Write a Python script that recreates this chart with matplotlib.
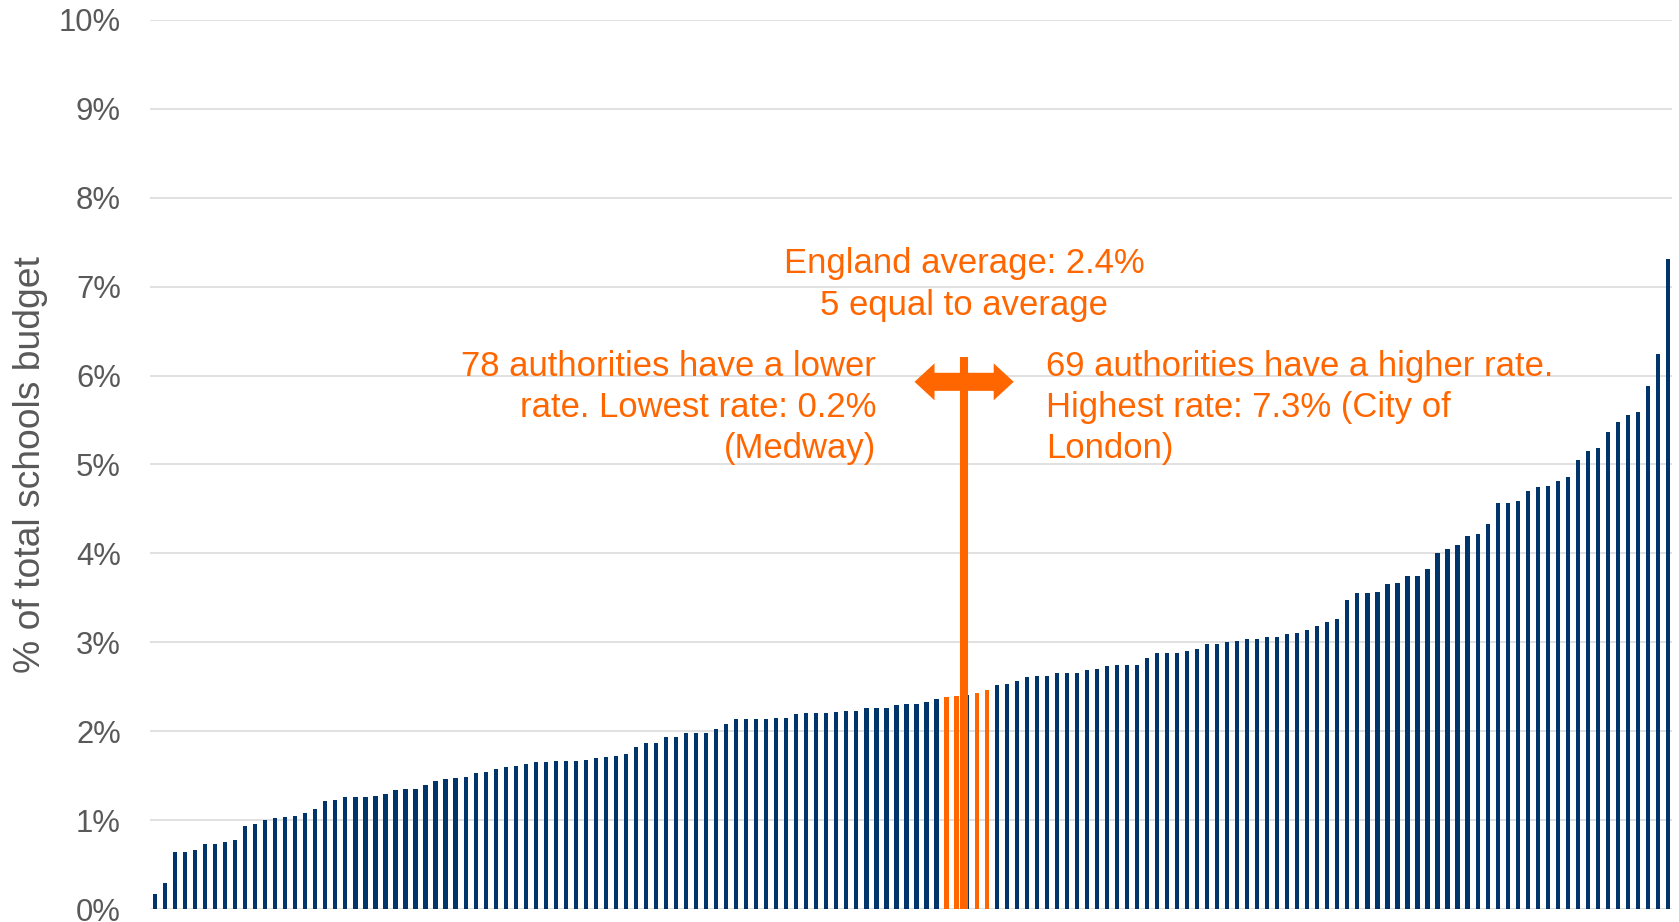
import matplotlib
matplotlib.use("Agg")
import matplotlib.pyplot as plt
from matplotlib.patches import FancyArrowPatch, ArrowStyle

plt.rcParams['font.family'] = ['Liberation Sans', 'DejaVu Sans']

# ---- data (sorted authority rates, % of total schools budget) ----
rates = [
    0.17, 0.29, 0.64, 0.64, 0.66, 0.73, 0.73, 0.75, 0.78, 0.93,
    0.96, 1.00, 1.02, 1.04, 1.05, 1.08, 1.13, 1.22, 1.23, 1.26,
    1.26, 1.26, 1.27, 1.29, 1.34, 1.35, 1.35, 1.40,
    1.44, 1.46, 1.47, 1.49, 1.53, 1.54, 1.58, 1.60, 1.61, 1.63,
    1.65, 1.65, 1.66, 1.66, 1.67, 1.68, 1.70, 1.71, 1.72, 1.74,
    1.82, 1.87, 1.87, 1.94, 1.94, 1.98, 1.98, 1.98,
    2.02, 2.08, 2.14, 2.14, 2.14, 2.14, 2.15, 2.15, 2.19, 2.20,
    2.21, 2.21, 2.22, 2.23, 2.23, 2.26, 2.26, 2.26, 2.29, 2.31,
    2.31, 2.33, 2.36,
    2.38, 2.40, 2.41, 2.43, 2.46,
    2.52, 2.53, 2.56, 2.61, 2.62, 2.62, 2.65, 2.65, 2.66, 2.69,
    2.70, 2.73, 2.74, 2.75, 2.75, 2.82, 2.88, 2.88, 2.88, 2.90,
    2.92, 2.98, 2.98, 3.00, 3.02, 3.04, 3.04, 3.06,
    3.06, 3.09, 3.11, 3.14, 3.18, 3.23, 3.26, 3.48, 3.56, 3.56,
    3.57, 3.66, 3.67, 3.75, 3.75, 3.82, 4.00, 4.05, 4.10, 4.20,
    4.22, 4.33,
    4.57, 4.57, 4.59, 4.70, 4.75, 4.76, 4.81, 4.86, 5.05, 5.15,
    5.19, 5.36, 5.48, 5.56, 5.59, 5.88, 6.24, 7.31,
]
# bars drawn in the highlight colour (equal to the England average)
highlight = [False] * 79 + [True, True, False, True, True] + [False] * 68

england_average = 2.4
y_ticks = [0, 1, 2, 3, 4, 5, 6, 7, 8, 9, 10]
y_tick_labels = ["0%", "1%", "2%", "3%", "4%", "5%", "6%", "7%", "8%", "9%", "10%"]
y_label = "% of total schools budget"
title_lines = ["England average: 2.4%", "5 equal to average"]
left_lines = ["78 authorities have a lower", "rate. Lowest rate: 0.2%", "(Medway)"]
right_lines = ["69 authorities have a higher rate.", "Highest rate: 7.3% (City of", "London)"]

NAVY = "#00356b"
ORANGE = "#ff6600"
GREY_TXT = "#595959"
GRID = "#d9d9d9"

W, H = 1679, 922
fig = plt.figure(figsize=(W / 100, H / 100), dpi=100)
ax = fig.add_axes([150 / W, 13 / H, (1672 - 150) / W, (902 - 13) / H])

x = list(range(len(rates)))
colors = [ORANGE if h else NAVY for h in highlight]
ax.bar(x, rates, width=0.42, color=colors, zorder=2)

ax.set_xlim(-0.5, 151.4)
ax.set_ylim(0, 10)
ax.set_yticks(y_ticks)
ax.set_yticklabels(y_tick_labels, fontsize=22.3, color=GREY_TXT)
ax.set_xticks([])
ax.tick_params(axis='y', length=0, pad=21)
for s in ax.spines.values():
    s.set_visible(False)
ax.grid(axis='y', color=GRID, linewidth=1.1, zorder=0)
ax.set_axisbelow(True)
ax.set_ylabel(y_label, fontsize=26.8, color=GREY_TXT, labelpad=8)

# average marker: vertical line + double arrow
xc = 80.75
ax.plot([xc, xc], [0, 6.21], color=ORANGE, linewidth=5.8, solid_capstyle='butt', zorder=4)
style = ArrowStyle("simple", head_length=14.4, head_width=26.6, tail_width=13)
for tip in (xc - 4.95, xc + 4.95):
    ax.add_patch(FancyArrowPatch((xc, 5.93), (tip, 5.93), arrowstyle=style,
                                 mutation_scale=1, color=ORANGE, shrinkA=0, shrinkB=0,
                                 linewidth=0, zorder=5))

fs = 24.9
for i, line in enumerate(title_lines):
    ax.text(xc, 7.154 - i * 0.47, line, ha='center', va='baseline', fontsize=fs, color=ORANGE)
for i, line in enumerate(left_lines):
    ax.text(71.96, 5.996 - i * 0.462, line, ha='right', va='baseline', fontsize=fs, color=ORANGE)
for i, line in enumerate(right_lines):
    ax.text(88.9, 5.996 - i * 0.462, line, ha='left', va='baseline', fontsize=fs, color=ORANGE)

fig.savefig("out.png", dpi=100)
